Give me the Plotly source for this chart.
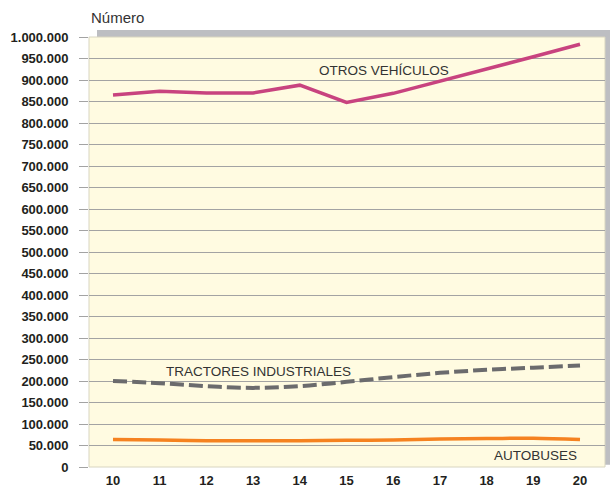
import plotly.graph_objects as go

years = [10, 11, 12, 13, 14, 15, 16, 17, 18, 19, 20]
otros = [865000, 874000, 870000, 870000, 888000, 848000, 869000, 897000, 924000, 954000, 983000]
tractores = [200000, 195000, 188000, 184000, 188000, 198000, 209000, 219000, 226000, 231000, 236000]
autobuses = [64000, 63000, 61000, 61000, 61000, 62000, 63000, 65000, 66000, 67000, 64000]
y_ticks = list(range(0, 1000001, 50000))

fig = go.Figure()
fig.add_trace(go.Scatter(x=years, y=otros, mode="lines", name="OTROS VEHÍCULOS",
                         line=dict(color="#C8437F", width=3.5)))
fig.add_trace(go.Scatter(x=years, y=tractores, mode="lines", name="TRACTORES INDUSTRIALES",
                         line=dict(color="#6B6B6D", width=4, dash="14px,5px", shape="spline")))
fig.add_trace(go.Scatter(x=years, y=autobuses, mode="lines", name="AUTOBUSES",
                         line=dict(color="#F58220", width=3.5, shape="spline")))

# grey shadow + cream panel behind the grid
fig.add_shape(type="rect", xref="paper", yref="paper", x0=0.0155, x1=1.2, y0=0.005, y1=1.0163,
              fillcolor="#BDBEC2", line_width=0, layer="below")
fig.add_shape(type="rect", xref="paper", yref="paper", x0=0, x1=1, y0=0, y1=1,
              fillcolor="#FFFBE1", line=dict(color="#D8D5C0", width=1), layer="below")

lab = dict(color="#333333", size=13.5, family="Liberation Sans, Arial, sans-serif")
fig.add_annotation(x=15.81, y=923000, text="OTROS VEHÍCULOS", showarrow=False, font=lab)
fig.add_annotation(x=13.12, y=221000, text="TRACTORES INDUSTRIALES", showarrow=False, font=lab)
fig.add_annotation(x=19.04, y=25600, text="AUTOBUSES", showarrow=False, font=lab)
fig.add_annotation(x=0, y=1.0, xref="paper", yref="paper", xanchor="left", yanchor="bottom",
                   yshift=9, text="Número", showarrow=False,
                   font=dict(color="#333333", size=15, family="Liberation Sans, Arial, sans-serif"))

fig.update_layout(
    width=610, height=492,
    margin=dict(l=89, r=5, t=37, b=25),
    paper_bgcolor="white", plot_bgcolor="rgba(0,0,0,0)",
    showlegend=False,
    separators=",.",
    font=dict(family="Liberation Sans, Arial, sans-serif", color="#231F20"),
)
fig.update_xaxes(range=[9.486, 20.535], tickvals=years, ticktext=[str(y) for y in years],
                 showgrid=False, zeroline=False, showline=False,
                 tickfont=dict(size=13, family="Liberation Sans, Arial", weight="bold"),
                 ticks="", ticklabelstandoff=4)
fig.update_yaxes(range=[0, 1000000], tickvals=y_ticks, tickformat=",d",
                 showgrid=True, gridcolor="#A3A3A3", gridwidth=1, zeroline=False, showline=False,
                 ticks="outside", ticklen=9, tickcolor="#A3A3A3",
                 tickfont=dict(size=13, family="Liberation Sans, Arial", weight="bold"),
                 ticklabelstandoff=8)

fig.write_html("out.html", config={"displayModeBar": False},
               post_script="document.body.style.margin='0';")
